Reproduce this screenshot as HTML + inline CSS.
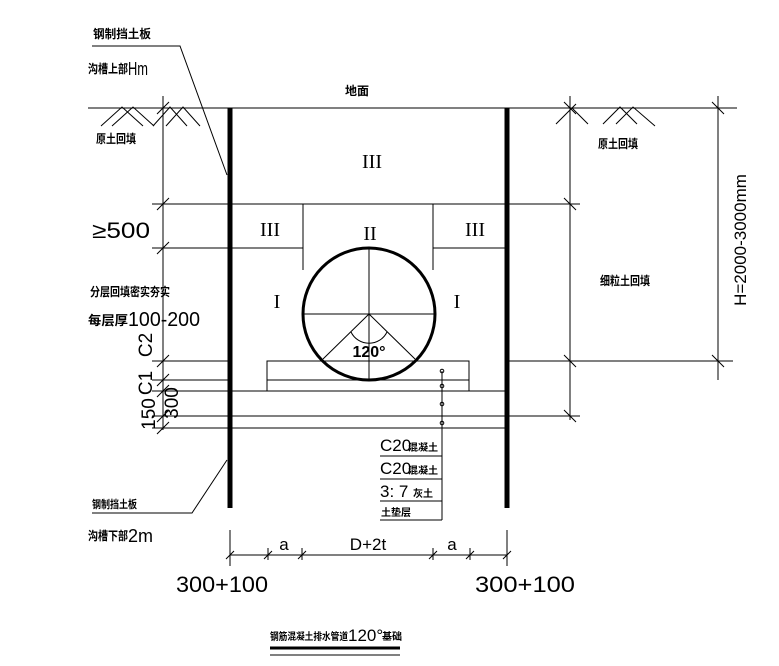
<!DOCTYPE html>
<html><head><meta charset="utf-8"><style>
html,body{margin:0;padding:0;background:#fff;}
svg{display:block;}
text{font-family:"Liberation Sans","Noto Sans CJK SC",sans-serif;fill:#000;}
.cn{font-family:"Noto Sans CJK SC","WenQuanYi Zen Hei",sans-serif;font-weight:bold;}
.s{font-family:"Liberation Serif",serif;}
</style></head><body>
<svg width="779" height="666" viewBox="0 0 779 666" xmlns="http://www.w3.org/2000/svg">
<g stroke="#000" stroke-width="1" fill="none">
<line x1="88" y1="108" x2="737" y2="108"/>
<path d="M101,126 L122,107 L143,126 M112,126 L133,107 L154,126"/>
<path d="M153,126 L170,107 L187,126 M166,126 L183,107 L200,126"/>
<path d="M556,124 L572,108 L588,124 M572,108 L576,104 M603,124 L620,107 L637,124 M616,124 L633,107 L655,126"/>
<line x1="230" y1="108" x2="230" y2="508" stroke-width="5"/>
<line x1="507" y1="108" x2="507" y2="508" stroke-width="5"/>
<line x1="163" y1="96" x2="163" y2="430"/>
<line x1="570" y1="96" x2="570" y2="420"/>
<line x1="718" y1="96" x2="718" y2="380"/>
<line x1="152" y1="204" x2="580" y2="204"/>
<line x1="152" y1="248" x2="303" y2="248"/>
<line x1="433" y1="248" x2="507" y2="248"/>
<line x1="303" y1="204" x2="303" y2="270"/>
<line x1="433" y1="204" x2="433" y2="270"/>
<line x1="152" y1="361" x2="230" y2="361"/>
<line x1="507" y1="361" x2="733" y2="361"/>
<line x1="152" y1="380" x2="230" y2="380"/>
<line x1="152" y1="391" x2="505" y2="391"/>
<line x1="152" y1="416" x2="580" y2="416"/>
<line x1="152" y1="428" x2="505" y2="428"/>
<rect x="267" y="361" width="202" height="30"/>
<line x1="267" y1="380" x2="469" y2="380"/>
<path d="M157,114 L169,102 M157,210 L169,198 M157,254 L169,242 M157,367 L169,355 M157,386 L169,374 M157,397 L169,385 M157,422 L169,410 M157,434 L169,422"/>
<path d="M564,102 L576,114 M564,198 L576,210 M564,355 L576,367 M564,410 L576,422 M712,102 L724,114 M712,355 L724,367"/>
<circle cx="369" cy="314" r="66" stroke-width="3"/>
<line x1="369" y1="248" x2="369" y2="380"/>
<line x1="303" y1="314" x2="435" y2="314"/>
<line x1="369" y1="314" x2="323" y2="359"/>
<line x1="369" y1="314" x2="415" y2="359"/>
<path d="M351,332 A20,20 0 0 0 387,332"/>
<path d="M92,46 L180,46 L227,175"/>
<path d="M227,460 L192,513 L92,513"/>
<line x1="442" y1="371" x2="442" y2="520"/>
<circle cx="442" cy="371" r="1.8"/><circle cx="442" cy="386" r="1.8"/><circle cx="442" cy="404" r="1.8"/><circle cx="442" cy="423" r="1.8"/>
<line x1="380" y1="456" x2="442" y2="456"/>
<line x1="380" y1="479" x2="442" y2="479"/>
<line x1="380" y1="501" x2="442" y2="501"/>
<line x1="380" y1="520" x2="442" y2="520"/>
<line x1="230" y1="555" x2="507" y2="555"/>
<line x1="230" y1="530" x2="230" y2="566"/>
<line x1="507" y1="530" x2="507" y2="566"/>
<path d="M268,548 L268,560 M302,548 L302,560 M433,548 L433,560 M470,548 L470,560"/>
<path d="M226,559 L234,551 M264,559 L272,551 M298,559 L306,551 M429,559 L437,551 M466,559 L474,551 M503,559 L511,551"/>
<line x1="270" y1="648" x2="400" y2="648" stroke-width="3"/>
<line x1="270" y1="655" x2="400" y2="655"/>
</g>
<text class="cn" x="93" y="38" font-size="12" textLength="58" lengthAdjust="spacingAndGlyphs">钢制挡土板</text>
<text class="cn" x="88" y="73" font-size="12" textLength="40" lengthAdjust="spacingAndGlyphs">沟槽上部</text><text x="128" y="75" font-size="18" textLength="20" lengthAdjust="spacingAndGlyphs">Hm</text>
<text class="cn" x="345" y="95" font-size="12">地面</text>
<text class="cn" x="96" y="143" font-size="12" textLength="40" lengthAdjust="spacingAndGlyphs">原土回填</text>
<text class="cn" x="598" y="148" font-size="12" textLength="40" lengthAdjust="spacingAndGlyphs">原土回填</text>
<text class="cn" x="600" y="285" font-size="12" textLength="50" lengthAdjust="spacingAndGlyphs">细粒土回填</text>
<text class="s" x="372" y="168" font-size="20" text-anchor="middle">III</text>
<text class="s" x="270" y="236" font-size="20" text-anchor="middle">III</text>
<text class="s" x="370" y="240" font-size="20" text-anchor="middle">II</text>
<text class="s" x="475" y="236" font-size="20" text-anchor="middle">III</text>
<text class="s" x="277" y="308" font-size="20" text-anchor="middle">I</text>
<text class="s" x="457" y="308" font-size="20" text-anchor="middle">I</text>
<text x="92" y="238" font-size="22" textLength="58" lengthAdjust="spacingAndGlyphs">≥500</text>
<text class="cn" x="90" y="296" font-size="12" textLength="80" lengthAdjust="spacingAndGlyphs">分层回填密实夯实</text>
<text class="cn" x="88" y="325" font-size="13" textLength="40" lengthAdjust="spacingAndGlyphs">每层厚</text><text x="128" y="326" font-size="20" textLength="72" lengthAdjust="spacingAndGlyphs">100-200</text>
<text x="369" y="357" font-size="16" font-weight="bold" text-anchor="middle">120°</text>
<text x="152" y="345" font-size="19" transform="rotate(-90 152 345)" text-anchor="middle">C2</text>
<text x="152" y="383" font-size="19" transform="rotate(-90 152 383)" text-anchor="middle">C1</text>
<text x="155" y="414" font-size="19" transform="rotate(-90 155 414)" text-anchor="middle">150</text>
<text x="178" y="403" font-size="19" transform="rotate(-90 178 403)" text-anchor="middle">300</text>
<text x="746" y="240" font-size="17" transform="rotate(-90 746 240)" text-anchor="middle">H=2000-3000mm</text>
<text x="380" y="451" font-size="17">C20</text><text class="cn" x="408" y="451" font-size="10">混凝土</text>
<text x="380" y="474" font-size="17">C20</text><text class="cn" x="408" y="474" font-size="10">混凝土</text>
<text x="380" y="497" font-size="17">3: 7</text><text class="cn" x="413" y="497" font-size="10">灰土</text>
<text class="cn" x="381" y="516" font-size="10">土垫层</text>
<text class="cn" x="92" y="508" font-size="11" textLength="45" lengthAdjust="spacingAndGlyphs">钢制挡土板</text>
<text class="cn" x="88" y="540" font-size="12" textLength="40" lengthAdjust="spacingAndGlyphs">沟槽下部</text><text x="128" y="542" font-size="18">2m</text>
<text x="284" y="550" font-size="17" text-anchor="middle">a</text>
<text x="368" y="550" font-size="17" text-anchor="middle">D+2t</text>
<text x="452" y="550" font-size="17" text-anchor="middle">a</text>
<text x="176" y="592" font-size="22" textLength="92" lengthAdjust="spacingAndGlyphs">300+100</text>
<text x="475" y="592" font-size="22" textLength="100" lengthAdjust="spacingAndGlyphs">300+100</text>
<text class="cn" x="270" y="640" font-size="10" textLength="78" lengthAdjust="spacingAndGlyphs">钢筋混凝土排水管道</text><text x="348" y="641" font-size="17">120°</text><text class="cn" x="382" y="640" font-size="10">基础</text>
</svg>
</body></html>
